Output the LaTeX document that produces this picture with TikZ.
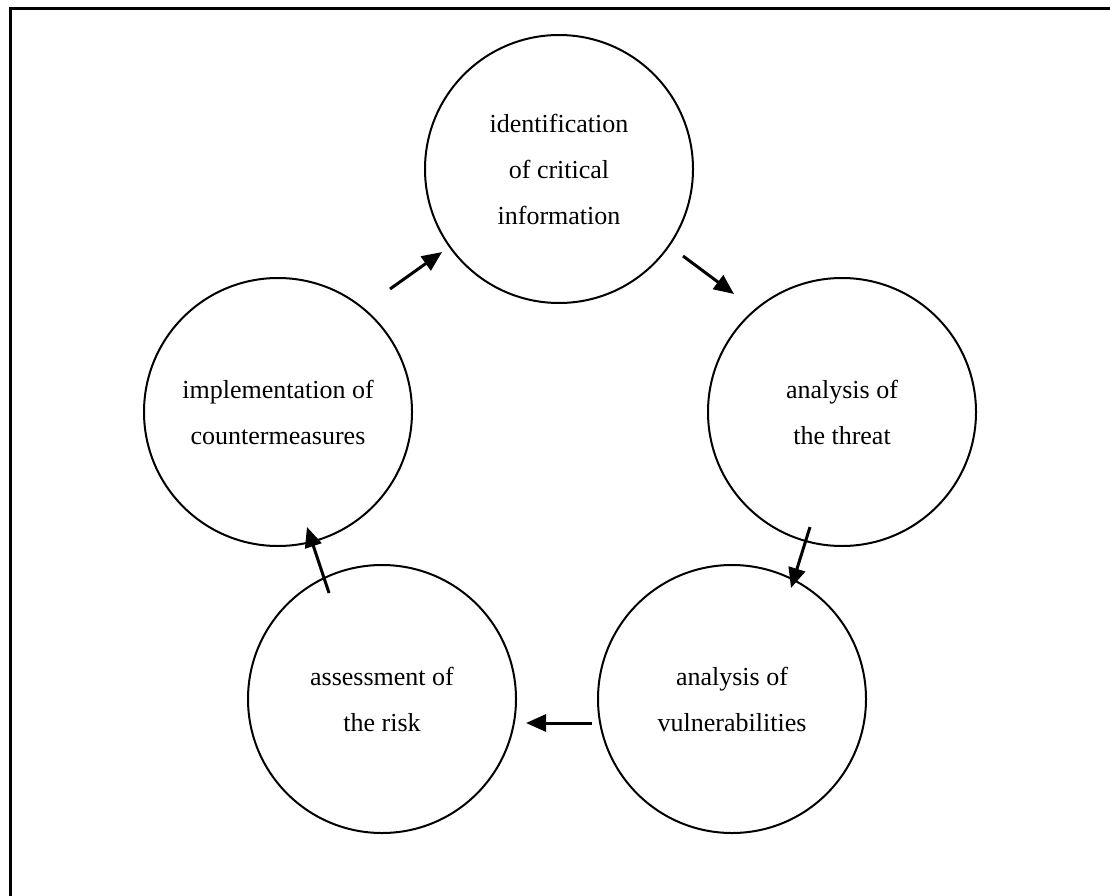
\documentclass[tikz,border=0pt]{standalone}
\usepackage{fontspec}
\setmainfont{Liberation Serif}
\usetikzlibrary{arrows.meta}
\begin{document}
\begin{tikzpicture}[x=1pt,y=-1pt,
  stage/.style={draw, circle, line width=2pt, minimum size=268pt, inner sep=0pt,
    align=center, font=\fontsize{26}{46}\selectfont},
  flow/.style={line width=3pt, -{Triangle[length=20pt,width=17pt]}}]
\useasboundingbox (0,0) rectangle (1110,896);
% outer frame (only its top and left sides fall inside the page)
\draw[line width=3pt] (10,896) -- (10,9) -- (1110,9);
% the five stages of the cycle
\node[stage] (T) at (559,169) {identification\\of critical\\information};
\node[stage] (R) at (842,412) {analysis of\\the threat};
\node[stage] (BR) at (732,699) {analysis of\\vulnerabilities};
\node[stage] (BL) at (382,699) {assessment of\\the risk};
\node[stage] (L) at (278,412) {implementation of\\countermeasures};
% arrow end points in the gaps between neighbouring stages
\coordinate (lt1) at (390,289); \coordinate (lt2) at (442,252);
\coordinate (tr1) at (683,256); \coordinate (tr2) at (734,294);
\coordinate (rb1) at (810,527); \coordinate (rb2) at (791,588);
\coordinate (bb1) at (592,723); \coordinate (bb2) at (526,723);
\coordinate (bl1) at (329,593); \coordinate (bl2) at (307,527);
\draw[flow] (lt1) -- (lt2);
\draw[flow] (tr1) -- (tr2);
\draw[flow] (rb1) -- (rb2);
\draw[flow] (bb1) -- (bb2);
\draw[flow] (bl1) -- (bl2);
\end{tikzpicture}
\end{document}
